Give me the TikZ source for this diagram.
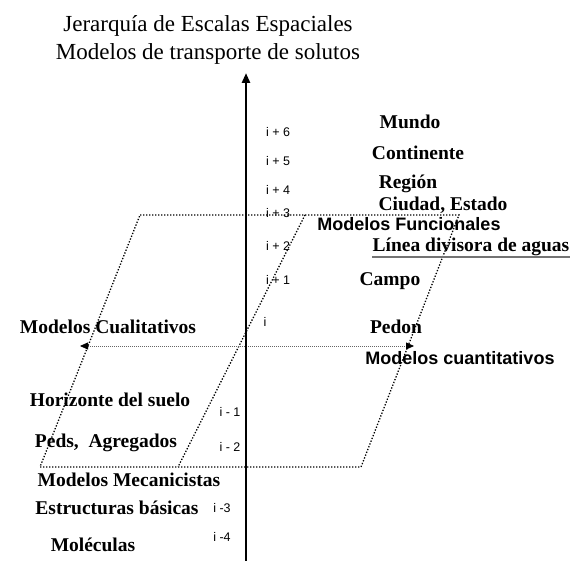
\documentclass[tikz,border=0pt]{standalone}
\usepackage{fontspec}
\setmainfont{Liberation Serif}
\newfontfamily\arialfont{Liberation Sans}
\usetikzlibrary{arrows.meta,positioning}

\begin{document}
\begin{tikzpicture}[x=1pt, y=-1pt,
    % Text styles
    titletext/.style={font=\fontsize{23}{25}\selectfont, inner sep=0pt, anchor=base},
    scalelabel/.style={font=\fontsize{19.5}{21}\selectfont\bfseries, inner sep=0pt},
    modellabel/.style={font=\arialfont\fontsize{18}{20}\selectfont\bfseries, inner sep=0pt},
    levellabel/.style={font=\arialfont\fontsize{12.5}{14}\selectfont, inner sep=0pt},
    % Line styles
    axis/.style={line width=2.6pt, -{Triangle[length=10pt, width=8pt]}},
    border/.style={line width=1.3pt, dash pattern=on 1.3pt off 1.7pt},
    divide/.style={line width=0.8pt, black!60, dash pattern=on 1pt off 1pt,
        {Triangle[length=8pt, width=7pt, black]}-{Triangle[length=8pt, width=7pt, black]}}
]
\useasboundingbox (0,0) rectangle (576,561);

% Title
\node[titletext] (title1) at (208,32) {Jerarquía de Escalas Espaciales};
\node[titletext] (title2) at (208,60) {Modelos de transporte de solutos};

% Parallelogram of model types
\coordinate (ptl) at (140,215);
\coordinate (ptr) at (459,215);
\coordinate (pbr) at (361,467);
\coordinate (pbl) at (40,467);
\draw[border] (ptl) -- (ptr) -- (pbr) -- (pbl) -- cycle;
\coordinate (itop) at (305,215);
\coordinate (ibot) at (178,467);
\draw[border] (itop) -- (ibot);

% Qualitative / quantitative divide
\coordinate (qualend) at (80,346);
\coordinate (quantend) at (414,346);
\draw[divide] (qualend) -- (quantend);

% Scale axis
\coordinate (axisbot) at (246,561);
\coordinate (axistop) at (246,73);
\draw[axis] (axisbot) -- (axistop);

% Scale levels
\node[levellabel] (lvl6) at (278,132) {i + 6};
\node[levellabel] (lvl5) at (278,161) {i + 5};
\node[levellabel] (lvl4) at (278,190) {i + 4};
\node[levellabel] (lvl3) at (278,213) {i + 3};
\node[levellabel] (lvl2) at (278,246) {i + 2};
\node[levellabel] (lvl1) at (278,280) {i + 1};
\node[levellabel] (lvl0) at (265,322) {i};
\node[levellabel] (lvlm1) at (230,412) {i - 1};
\node[levellabel] (lvlm2) at (230,447) {i - 2};
\node[levellabel] (lvlm3) at (222,508) {i -3};
\node[levellabel] (lvlm4) at (222,537) {i -4};

% Large scales (right)
\node[scalelabel] (mundo) at (410,122) {Mundo};
\node[scalelabel] (continente) at (418,153) {Continente};
\node[scalelabel] (region) at (408,184) {Región};
\node[scalelabel] (ciudad) at (443,205) {Ciudad, Estado};
\node[scalelabel, anchor=base] (linea) at (471,252) {Línea divisora de aguas};
\draw[black!55, line width=1.6pt] ([yshift=-5pt]linea.base west) -- ([yshift=-5pt]linea.base east);
\node[scalelabel] (campo) at (390,281) {Campo};
\node[scalelabel] (pedon) at (396,327) {Pedon};

% Small scales (left)
\node[scalelabel] (horizonte) at (110,400) {Horizonte del suelo};
\node[scalelabel] (peds) at (106,443) {Peds,\ \ Agregados};
\node[scalelabel] (estructuras) at (117,508) {Estructuras básicas};
\node[scalelabel] (moleculas) at (93,545) {Moléculas};

% Model types
\node[modellabel] (funcionales) at (409,224) {Modelos Funcionales};
\node[modellabel] (cuantitativos) at (460,358) {Modelos cuantitativos};
\node[scalelabel] (cualitativos) at (108,327) {Modelos Cualitativos};
\node[scalelabel] (mecanicistas) at (129,480) {Modelos Mecanicistas};

\end{tikzpicture}
\end{document}
